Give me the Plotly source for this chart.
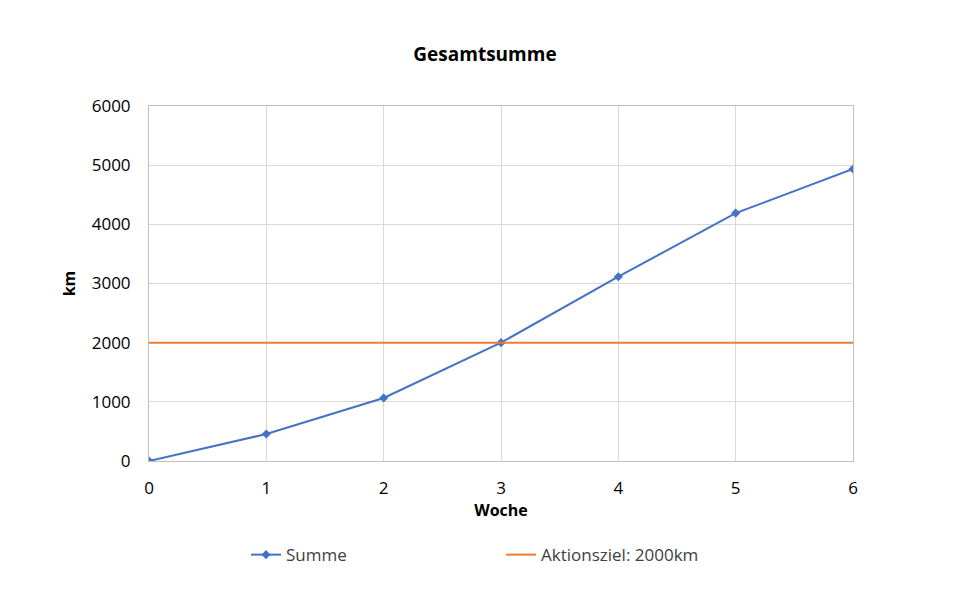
import plotly.graph_objects as go

weeks = [0, 1, 2, 3, 4, 5, 6]
summe = [0, 456, 1065, 2000, 3115, 4190, 4935]
ziel = [2000, 2000, 2000, 2000, 2000, 2000, 2000]

fig = go.Figure()
fig.add_trace(go.Scatter(x=weeks, y=summe, name="Summe", mode="lines+markers",
                         line=dict(color="#4472C4", width=2),
                         marker=dict(symbol="diamond", size=7, color="#4472C4")))
fig.add_trace(go.Scatter(x=weeks, y=ziel, name="Aktionsziel: 2000km", mode="lines",
                         line=dict(color="#ED7D31", width=2)))

font = "Open Sans, Liberation Sans, sans-serif"
fig.update_layout(
    width=954, height=614, paper_bgcolor="white", plot_bgcolor="white",
    margin=dict(l=141, r=109, t=98, b=161, autoexpand=False),
    font=dict(family=font, size=16, color="#000000"),
    title=dict(text="<b>Gesamtsumme</b>", x=0.5, xanchor="center", y=0.924, yanchor="middle",
               font=dict(size=19)),
    legend=dict(orientation="h", x=0.5, xanchor="center", y=-0.265, yanchor="middle",
                font=dict(size=17, color="#404040"), entrywidth=210, tracegroupgap=0),
    xaxis=dict(range=[0, 6], dtick=1, showgrid=True, gridcolor="#D9D9D9",
               showline=True, linecolor="#BFBFBF", zeroline=False, ticks="",
               ticklabelstandoff=12, tickfont=dict(size=17),
               title=dict(text="<b>Woche</b>", font=dict(size=16), standoff=6)),
    yaxis=dict(range=[0, 6000], dtick=1000, showgrid=True, gridcolor="#D9D9D9",
               showline=True, linecolor="#BFBFBF", zeroline=False, ticks="", mirror=True,
               ticklabelstandoff=14, tickfont=dict(size=17),
               title=dict(text="<b>km</b>", font=dict(size=16), standoff=12)),
)
fig.update_xaxes(mirror=True)
fig.write_html("out.html")
